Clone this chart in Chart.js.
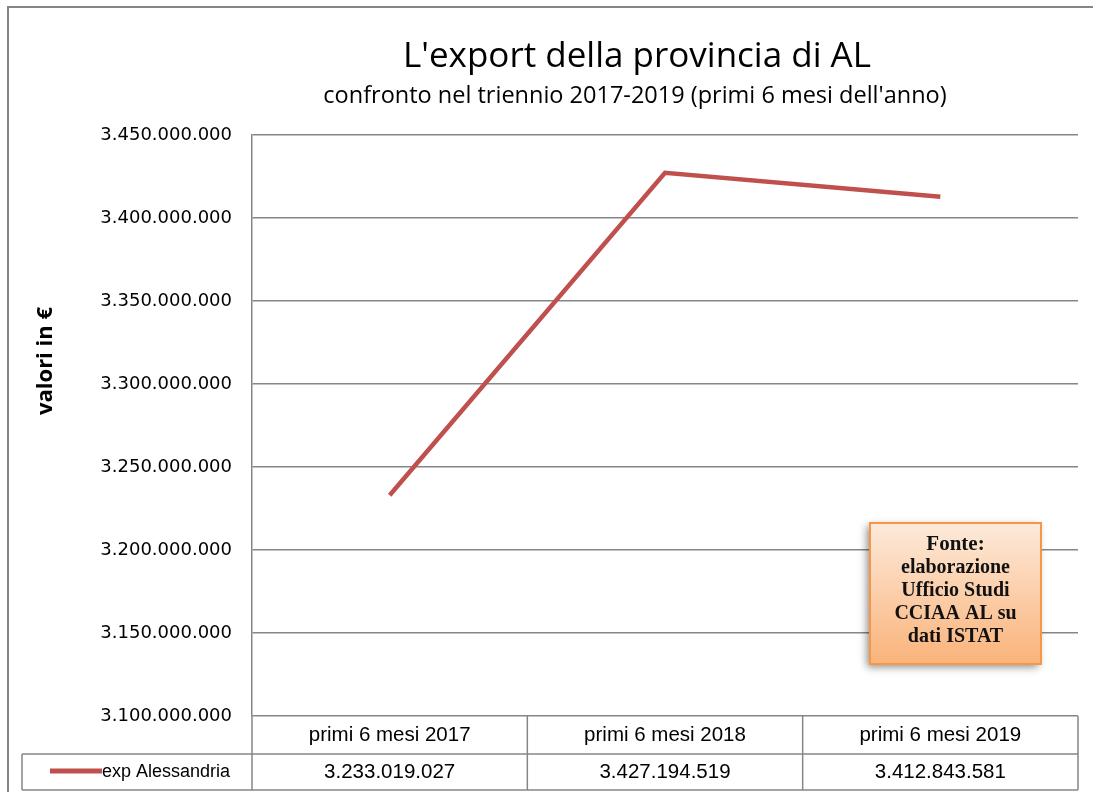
<!DOCTYPE html>
<html>
<head>
<meta charset="utf-8">
<script src="https://cdn.jsdelivr.net/npm/chart.js@4"></script>
<style>
  html, body { margin: 0; padding: 0; background: #fff; }
  #wrap { width: 1093px; height: 792px; position: relative; }
</style>
</head>
<body>
<div id="wrap"><canvas id="myChart"></canvas></div>
<script>
// dati
const categories = ['primi 6 mesi 2017', 'primi 6 mesi 2018', 'primi 6 mesi 2019'];
const seriesName = 'exp Alessandria';
const exportValues = [3233019027, 3427194519, 3412843581];
const valueLabels = ['3.233.019.027', '3.427.194.519', '3.412.843.581'];
const chartTitle = "L'export della provincia di AL";
const chartSubtitle = "confronto nel triennio 2017-2019 (primi 6 mesi dell'anno)";
const yTitle = 'valori in €';
const noteLines = ['Fonte:', 'elaborazione', 'Ufficio Studi', 'CCIAA AL su', 'dati ISTAT'];

const lineColor = '#C0504D';
const gridColor = '#868686';

function fmtIt(v) {
    return String(Math.round(v)).replace(/\B(?=(\d{3})+(?!\d))/g, '.');
}

// disegna cornice, titoli, tabella dati e riquadro fonte
const extras = {
    id: 'extras',
    beforeDraw(chart) {
        const ctx = chart.ctx;
        ctx.save();
        ctx.fillStyle = '#fff';
        ctx.fillRect(0, 0, chart.width, chart.height);
        ctx.strokeStyle = gridColor;
        ctx.lineWidth = 2;
        ctx.strokeRect(8, 7, 1200, 900);
        ctx.restore();
    },
    afterDraw(chart) {
        const ctx = chart.ctx;
        const area = chart.chartArea;
        const colW = (area.right - area.left) / categories.length;
        ctx.save();

        // titoli
        ctx.fillStyle = '#000';
        ctx.textAlign = 'center';
        ctx.textBaseline = 'alphabetic';
        ctx.font = '35px "Open Sans"';
        ctx.fillText(chartTitle, 637, 67);
        ctx.font = '23.5px "Open Sans"';
        ctx.fillText(chartSubtitle, 635, 103);

        // titolo asse y
        ctx.save();
        ctx.translate(46, 361);
        ctx.rotate(-Math.PI / 2);
        ctx.font = 'bold 22px "Open Sans"';
        ctx.textBaseline = 'middle';
        ctx.fillText(yTitle, 0, 0);
        ctx.restore();

        // tabella dati
        const row1 = area.bottom, row2 = 754, row3 = 790;
        ctx.strokeStyle = gridColor;
        ctx.lineWidth = 1.5;
        ctx.beginPath();
        ctx.moveTo(22, row2); ctx.lineTo(area.right, row2);
        ctx.moveTo(22, row3); ctx.lineTo(area.right, row3);
        ctx.moveTo(22, row2); ctx.lineTo(22, row3);
        for (let i = 0; i <= categories.length; i++) {
            const x = area.left + i * colW;
            ctx.moveTo(x, row1); ctx.lineTo(x, row3);
        }
        ctx.stroke();

        ctx.font = '20.5px "Liberation Sans"';
        ctx.textBaseline = 'middle';
        ctx.fillStyle = '#000';
        categories.forEach((c, i) => {
            const cx = chart.scales.x.getPixelForValue(i);
            ctx.fillText(c, cx, (row1 + row2) / 2);
            ctx.fillText(valueLabels[i], cx, (row2 + row3) / 2);
        });
        ctx.strokeStyle = lineColor;
        ctx.lineWidth = 5;
        ctx.beginPath();
        ctx.moveTo(50, 771); ctx.lineTo(102, 771);
        ctx.stroke();
        ctx.textAlign = 'left';
        ctx.font = '18px "Liberation Sans"';
        ctx.fillText(seriesName, 102, (row2 + row3) / 2);

        // riquadro fonte
        const bx = 870, by = 523, bw = 171, bh = 141;
        ctx.save();
        ctx.shadowColor = 'rgba(0,0,0,0.45)';
        ctx.shadowBlur = 8;
        ctx.shadowOffsetX = -3;
        ctx.shadowOffsetY = 3;
        const grad = ctx.createLinearGradient(0, by, 0, by + bh);
        grad.addColorStop(0, '#FDEADA');
        grad.addColorStop(1, '#FAB37A');
        ctx.fillStyle = grad;
        ctx.fillRect(bx, by, bw, bh);
        ctx.restore();
        ctx.strokeStyle = '#F79646';
        ctx.lineWidth = 2;
        ctx.strokeRect(bx, by, bw, bh);
        ctx.fillStyle = '#111';
        ctx.textAlign = 'center';
        ctx.textBaseline = 'middle';
        noteLines.forEach((t, i) => {
            ctx.font = (i === 0 ? 'bold 21px' : 'bold 20px') + ' "Liberation Serif"';
            ctx.fillText(t, bx + bw / 2, by + 22 + i * 23);
        });
        ctx.restore();
    }
};

const ctx = document.getElementById('myChart').getContext('2d');
const myChart = new Chart(ctx, {
    type: 'line',
    data: {
        labels: categories,
        datasets: [{
            label: seriesName,
            data: exportValues,
            borderColor: lineColor,
            backgroundColor: lineColor,
            borderWidth: 4.5,
            pointRadius: 0,
            tension: 0
        }]
    },
    options: {
        responsive: true,
        maintainAspectRatio: false,
        animation: false,
        layout: { padding: { left: 8, top: 135, right: 15, bottom: 76 } },
        plugins: {
            legend: { display: false },
            tooltip: { enabled: false }
        },
        scales: {
            x: {
                type: 'category',
                offset: true,
                display: false
            },
            y: {
                min: 3100000000,
                max: 3450000000,
                afterFit(scale) { scale.width = 244; },
                ticks: {
                    stepSize: 50000000,
                    padding: 20,
                    color: '#000',
                    font: { family: '"DejaVu Sans"', size: 18 },
                    callback: v => fmtIt(v)
                },
                grid: {
                    color: gridColor,
                    lineWidth: 1.5,
                    drawTicks: false
                },
                border: { color: gridColor, width: 1.5 }
            }
        }
    },
    plugins: [extras]
});
</script>
</body>
</html>
